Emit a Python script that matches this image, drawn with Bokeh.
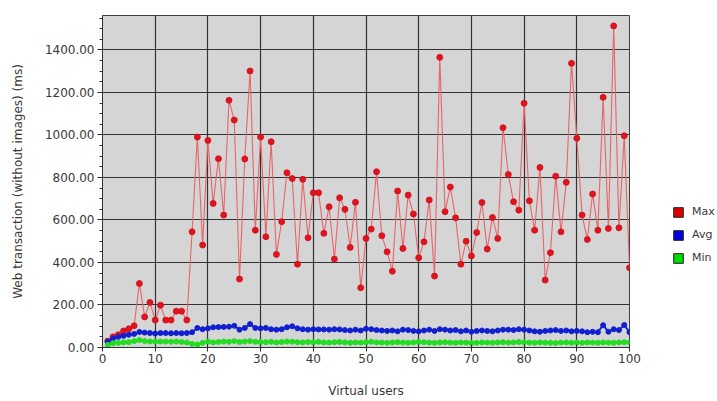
from bokeh.plotting import figure
from bokeh.layouts import row
from bokeh.models import Legend, LegendItem, Range1d, FixedTicker, PrintfTickFormatter
from bokeh.embed import file_html
from bokeh.resources import INLINE

users = list(range(1, 101))
max_ms = [30, 50, 60, 78, 88, 102, 301, 144, 212, 129,
          199, 129, 129, 171, 171, 129, 544, 990, 482, 974,
          678, 888, 623, 1163, 1070, 322, 887, 1301, 552, 990,
          521, 968, 438, 592, 822, 795, 392, 791, 516, 728,
          728, 537, 662, 416, 704, 650, 471, 683, 281, 513,
          557, 827, 526, 450, 359, 736, 466, 717, 628, 422,
          497, 694, 336, 1365, 639, 755, 610, 392, 500, 431,
          541, 682, 463, 612, 513, 1034, 814, 686, 646, 1149,
          690, 552, 847, 317, 446, 806, 544, 777, 1337, 984,
          623, 508, 722, 552, 1177, 560, 1513, 563, 996, 375]
avg_ms = [27, 42, 50, 55, 60, 64, 73, 70, 68, 66,
          68, 68, 67, 68, 67, 68, 72, 92, 86, 90,
          95, 96, 97, 98, 102, 84, 92, 110, 92, 90,
          92, 86, 84, 86, 95, 100, 90, 86, 84, 86,
          85, 85, 84, 86, 85, 82, 80, 84, 80, 88,
          86, 82, 80, 78, 80, 76, 84, 82, 78, 76,
          80, 84, 78, 86, 84, 80, 82, 76, 80, 74,
          78, 80, 78, 76, 80, 84, 84, 82, 86, 84,
          80, 76, 74, 78, 80, 82, 78, 80, 76, 78,
          76, 72, 74, 72, 105, 74, 86, 82, 106, 72]
min_ms = [12, 20, 22, 24, 25, 30, 35, 30, 28, 27,
          28, 28, 27, 28, 26, 24, 17, 14, 22, 28,
          24, 26, 28, 27, 30, 26, 28, 30, 27, 26,
          25, 27, 24, 26, 28, 27, 25, 24, 26, 25,
          27, 24, 23, 25, 26, 24, 22, 24, 23, 25,
          27, 24, 23, 22, 24, 25, 23, 22, 24, 26,
          25, 23, 22, 24, 25, 23, 22, 24, 23, 21,
          22, 24, 23, 22, 24, 25, 23, 24, 26, 25,
          23, 22, 24, 23, 22, 21, 23, 24, 22, 23,
          22, 24, 23, 22, 24, 23, 22, 24, 25, 24]
x_ticks = list(range(0, 101, 10))
y_ticks = list(range(0, 1401, 200))
y_minor = list(range(0, 1551, 50))
series_names = ["Max", "Avg", "Min"]
series_values = [max_ms, avg_ms, min_ms]

FONT = "DejaVu Sans"
TXT = "#383838"

p = figure(width=641, height=401, output_backend="svg", toolbar_location=None,
           x_range=Range1d(0, 100), y_range=Range1d(0, 1562),
           min_border_left=102, min_border_right=12, min_border_top=15,
           min_border_bottom=54)
p.background_fill_color = "#d5d5d5"
p.border_fill_color = "white"
p.outline_line_color = "#404040"
p.outline_line_width = 1

p.xaxis.ticker = FixedTicker(ticks=x_ticks)
p.yaxis.ticker = FixedTicker(ticks=y_ticks, minor_ticks=y_minor)
p.yaxis.formatter = PrintfTickFormatter(format="%.2f")

for ax in (p.xaxis[0], p.yaxis[0]):
    ax.major_label_text_font = FONT
    ax.major_label_text_font_size = "12px"
    ax.major_label_text_color = TXT
    ax.axis_label_text_font = FONT
    ax.axis_label_text_font_size = "12px"
    ax.axis_label_text_font_style = "normal"
    ax.axis_label_text_color = TXT
    ax.axis_line_color = "#303030"
    ax.major_tick_line_color = "#303030"
    ax.minor_tick_line_color = "#303030"

p.xaxis.axis_label = "Virtual users"
p.yaxis.axis_label = "Web transaction (without images) (ms)"
p.xaxis.major_tick_in = 3
p.xaxis.major_tick_out = 4
p.xaxis.minor_tick_out = 0
p.xaxis.minor_tick_in = 0
p.xaxis.major_label_standoff = 2
p.xaxis.axis_label_standoff = 18
p.yaxis.major_tick_in = 0
p.yaxis.major_tick_out = 5
p.yaxis.minor_tick_in = 0
p.yaxis.minor_tick_out = 3
p.yaxis.major_label_standoff = 3
p.yaxis.axis_label_standoff = 17

for g in (p.xgrid[0], p.ygrid[0]):
    g.grid_line_color = "#333333"
    g.grid_line_width = 1.2
p.xgrid.ticker = FixedTicker(ticks=x_ticks)
p.ygrid.ticker = FixedTicker(ticks=y_ticks)

# series
p.line(users, max_ms, line_color="#e86468", line_width=1.1)
p.scatter(users, max_ms, marker="circle", size=6, fill_color="#e3121c",
          line_color="#c8101a", line_width=0.8)
p.line(users, avg_ms, line_color="#1428d8", line_width=2)
p.scatter(users, avg_ms, marker="circle", size=5, fill_color="#1020d0",
          line_color="#1020d0")
p.line(users, min_ms, line_color="#2ee02e", line_width=2)
p.scatter(users, min_ms, marker="circle", size=5, fill_color="#22dd22",
          line_color="#22dd22")

# legend panel to the right of the chart
lg = figure(width=76, height=401, output_backend="svg", toolbar_location=None,
            x_range=Range1d(0, 1), y_range=Range1d(0, 1),
            x_axis_type=None, y_axis_type=None, min_border=0)
lg.outline_line_color = None
lg.background_fill_color = "white"
lg.border_fill_color = "white"
lg.xgrid.visible = False
lg.ygrid.visible = False

colors = ["#e00000", "#0000e0", "#00dd00"]
items = []
for name, c, vals in zip(series_names, colors, series_values):
    r = lg.quad(left=[users[0]], right=[users[0]], top=[vals[0]],
                bottom=[vals[0]], fill_color=c, line_color="#202020",
                line_width=1)
    items.append(LegendItem(label=name, renderers=[r]))

legend = Legend(items=items, location=(31, 83), orientation="vertical",
                glyph_width=12, glyph_height=12, label_height=12,
                spacing=10, padding=0, margin=0, label_standoff=8,
                label_text_font=FONT, label_text_font_size="11px",
                label_text_color=TXT, background_fill_alpha=0,
                border_line_alpha=0)
lg.add_layout(legend, "center")

layout = row(p, lg, spacing=0)
open("out.html", "w").write(file_html(layout, INLINE))
